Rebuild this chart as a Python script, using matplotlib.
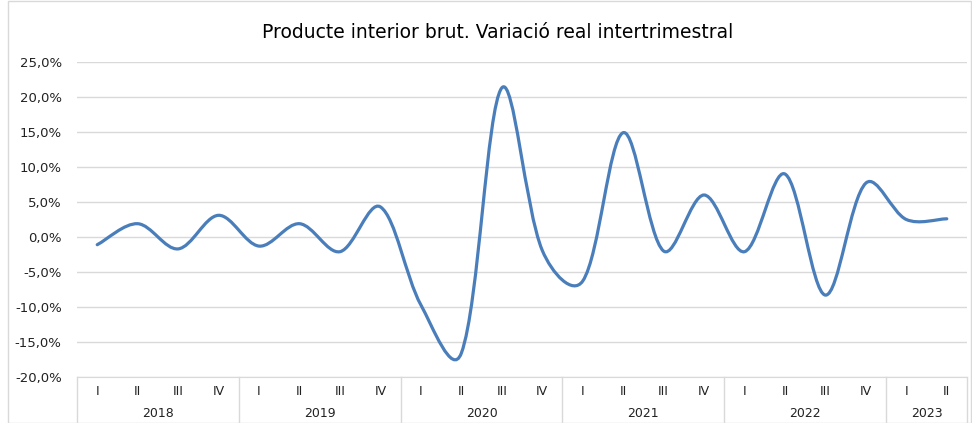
import numpy as np
import matplotlib
matplotlib.use("Agg")
import matplotlib.pyplot as plt
from matplotlib.path import Path
from matplotlib.patches import PathPatch, Rectangle
from matplotlib.ticker import FuncFormatter

# quarterly real GDP growth (%), 2018 I .. 2023 II
quarters = ["I", "II", "III", "IV"] * 5 + ["I", "II"]
years = ["2018", "2019", "2020", "2021", "2022", "2023"]
year_len = [4, 4, 4, 4, 4, 2]
pib = [-1.1, 1.9, -1.7, 3.1, -1.3, 1.9, -2.1, 4.3,
       -9.7, -16.6, 21.3, -1.9, -6.3, 14.9, -2.0, 6.0,
       -2.1, 9.0, -8.3, 7.7, 2.5, 2.6]

blue = "#4a7ebb"
grid_c = "#d9d9d9"
txt_c = "#222222"

fig = plt.figure(figsize=(9.72, 4.23), dpi=100)
ax = fig.add_axes([77/972, 1 - 377/423, (967 - 77)/972, (377 - 62)/423])
ax.set_xlim(-0.5, len(pib) - 0.5)
ax.set_ylim(-20, 25)

# excel-like smoothed line: bezier, control points partly scaled by segment length (pixels)
sx = 890 / len(pib)
sy = 315 / 45
P = np.column_stack([np.arange(len(pib)) * sx, np.array(pib) * sy])
mix = 0.5
cin, cout = [], []
for i in range(len(P)):
    a = P[max(i - 1, 0)]
    b = P[i]
    c = P[min(i + 1, len(P) - 1)]
    d1 = np.hypot(*(b - a))
    d2 = np.hypot(*(c - b))
    s = d1 + d2 if d1 + d2 > 0 else 1
    f1 = mix / 6 + (1 - mix) / 3 * d1 / s
    f2 = mix / 6 + (1 - mix) / 3 * d2 / s
    cin.append(b - f1 * (c - a))
    cout.append(b + f2 * (c - a))
verts = [P[0]]
codes = [Path.MOVETO]
for i in range(len(P) - 1):
    verts += [cout[i], cin[i + 1], P[i + 1]]
    codes += [Path.CURVE4] * 3
verts = np.array(verts) / [sx, sy]
ax.add_patch(PathPatch(Path(verts, codes), fill=False, edgecolor=blue,
                       lw=2.3, capstyle="round", joinstyle="round", zorder=3))

ax.set_yticks(np.arange(-20, 26, 5))
ax.yaxis.set_major_formatter(FuncFormatter(lambda v, p: f"{v:.1f}%".replace(".", ",")))
ax.grid(axis="y", color=grid_c, lw=1)
ax.set_axisbelow(True)
for s in ["top", "right", "left"]:
    ax.spines[s].set_visible(False)
ax.spines["bottom"].set_color(grid_c)
ax.tick_params(axis="y", length=0, pad=11, labelsize=9.5, labelcolor=txt_c)

ax.set_xticks(np.arange(len(pib)))
ax.set_xticklabels(quarters)
ax.tick_params(axis="x", length=0, pad=6, labelsize=9, labelcolor=txt_c)

# year labels and separators
tr = ax.get_xaxis_transform()
start = 0
ax.plot([-0.5, -0.5], [0, -0.146], color=grid_c, lw=1, transform=tr, clip_on=False)
for yr, n in zip(years, year_len):
    ax.text(start + (n - 1) / 2, -0.115, yr, transform=tr, ha="center", va="center",
            fontsize=9, color=txt_c)
    start += n
    ax.plot([start - 0.5, start - 0.5], [0, -0.146], color=grid_c, lw=1,
            transform=tr, clip_on=False)

fig.text(498/972, 1 - 32/423, "Producte interior brut. Variació real intertrimestral",
         ha="center", va="center", fontsize=13.5, color="black")

fig.patches.append(Rectangle((8/972, 0), 1 - 9/972, 1 - 1/423, transform=fig.transFigure,
                             fill=False, edgecolor=grid_c, lw=1))

fig.savefig("out.png", dpi=100)
